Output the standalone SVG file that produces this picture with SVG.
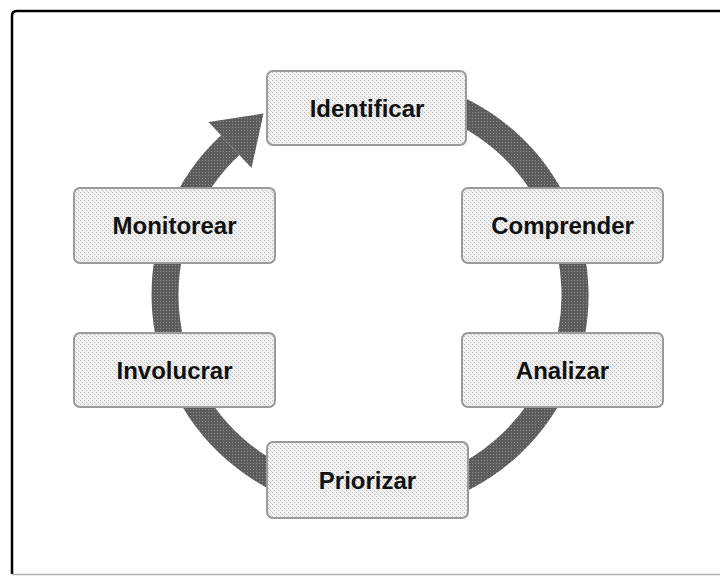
<svg xmlns="http://www.w3.org/2000/svg" width="720" height="576" viewBox="0 0 720 576">
  <defs>
    <pattern id="boxfill" patternUnits="userSpaceOnUse" width="4" height="4">
      <rect width="4" height="4" fill="#f2f2f2"/>
      <rect x="0" y="0" width="1" height="1" fill="#bdbdbd"/>
      <rect x="2" y="2" width="1" height="1" fill="#bdbdbd"/>
      <rect x="1" y="1" width="1" height="1" fill="#dcdcdc"/>
      <rect x="3" y="3" width="1" height="1" fill="#dcdcdc"/>
    </pattern>
    <pattern id="ringfill" patternUnits="userSpaceOnUse" width="3" height="3">
      <rect width="3" height="3" fill="#5c5c5c"/>
      <rect x="1" y="1" width="1" height="1" fill="#8e8e8e"/>
    </pattern>
    <style>
      .box { fill: url(#boxfill); stroke: #9a9a9a; stroke-width: 2; }
      .lbl { font-family: "Liberation Sans", Arial, sans-serif; font-weight: bold; font-size: 24px; fill: #111; text-anchor: middle; }
      .ring { fill: none; stroke: url(#ringfill); stroke-width: 27; }
      .head { fill: url(#ringfill); }
    </style>
  </defs>

  <rect x="0" y="0" width="720" height="576" fill="#ffffff"/>
  <!-- frame -->
  <path d="M 12 574 L 12 16 Q 12 11 17 11 L 720 11" fill="none" stroke="#000" stroke-width="2.5"/>
  <path d="M 12 574.5 L 720 574.5" fill="none" stroke="#b0b0b0" stroke-width="1.5"/>

  <g id="connectors">
    <path class="ring" d="M 230.2 145.1 A 205 205 0 1 0 405.6 93.1"/>
    <polygon class="head" points="263.5,113.5 208.5,122 251.5,168"/>
  </g>

  <g id="identificar">
    <rect class="box" x="267" y="71" width="199" height="74" rx="6"/>
    <text class="lbl" x="367" y="116.5">Identificar</text>
  </g>
  <g id="comprender">
    <rect class="box" x="462" y="188" width="201" height="75" rx="6"/>
    <text class="lbl" x="562.5" y="234">Comprender</text>
  </g>
  <g id="analizar">
    <rect class="box" x="462" y="333" width="201" height="74" rx="6"/>
    <text class="lbl" x="562.5" y="378.5">Analizar</text>
  </g>
  <g id="priorizar">
    <rect class="box" x="267" y="442" width="201" height="76" rx="6"/>
    <text class="lbl" x="367.5" y="488.5">Priorizar</text>
  </g>
  <g id="involucrar">
    <rect class="box" x="74" y="333" width="201" height="74" rx="6"/>
    <text class="lbl" x="174.5" y="378.5">Involucrar</text>
  </g>
  <g id="monitorear">
    <rect class="box" x="74" y="188" width="201" height="75" rx="6"/>
    <text class="lbl" x="174.5" y="234">Monitorear</text>
  </g>
</svg>
